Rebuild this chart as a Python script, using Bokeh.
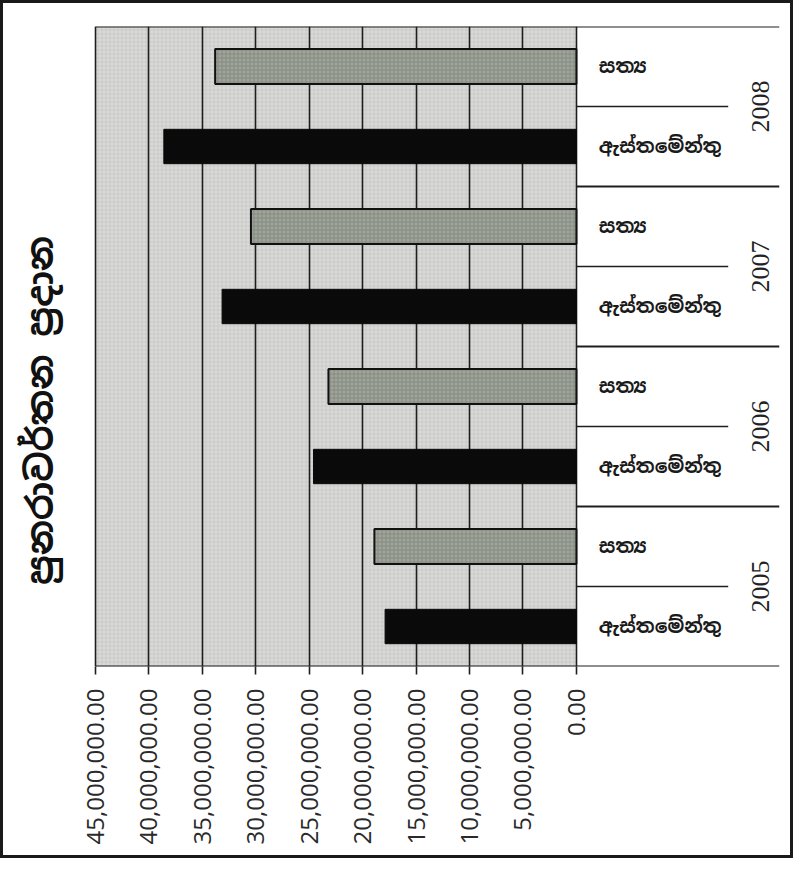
import numpy as np
from bokeh.plotting import figure
from bokeh.models import (Range1d, FixedTicker, NumeralTickFormatter, BoxAnnotation,
                          ColumnDataSource)
from bokeh.core.properties import value
from bokeh.embed import file_html
from bokeh.resources import INLINE

# ---- data ----
years = ["2005", "2006", "2007", "2008"]
type_labels = ["ඇස්තමේන්තු", "සත්‍ය"]   # estimate, actual
estimate = [17.9e6, 24.6e6, 33.15e6, 38.6e6]
actual = [18.9e6, 23.2e6, 30.45e6, 33.8e6]
x_ticks = [0, 5e6, 10e6, 15e6, 20e6, 25e6, 30e6, 35e6, 40e6, 45e6]
title_text = "පුනරාවර්තන ප්‍රදාන"

n = len(years)
y_est = np.arange(n) * 2
y_act = np.arange(n) * 2 + 1
x_max = x_ticks[-1]
x_left = 53.6e6     # left canvas edge (room for the rotated title)
x_right = -19.0e6   # right edge of label area (data units)
y_top = 2 * n - 0.5

p = figure(width=793, height=858, output_backend="svg", toolbar_location=None,
           x_range=Range1d(x_left, x_right), y_range=Range1d(-0.5, y_top),
           y_axis_location=None, min_border_left=0, min_border_right=17,
           min_border_top=23, min_border_bottom=195)
p.outline_line_color = None
p.background_fill_color = "white"
p.border_fill_color = "white"
p.styles = {"border": "3px solid #1a1a1a", "box-sizing": "border-box"}

# gray plotting area (with a light mesh texture like the printed original)
bg = BoxAnnotation(left=0, right=x_max, fill_color="#dadbd8", fill_alpha=1,
                   line_color=None, level="image",
                   hatch_pattern="+", hatch_color="#c6c7c4", hatch_scale=4,
                   hatch_weight=1, hatch_alpha=0.8)
p.add_layout(bg)

# grid
p.xgrid.ticker = FixedTicker(ticks=x_ticks)
p.xgrid.grid_line_color = "#1e1e1e"
p.xgrid.grid_line_width = 1.6
p.ygrid.visible = False

# x axis (line drawn as a segment so it starts at 45,000,000)
ax = p.xaxis[0]
ax.ticker = FixedTicker(ticks=x_ticks)
ax.formatter = NumeralTickFormatter(format="0,0.00")
ax.major_label_orientation = np.pi / 2
ax.major_label_text_font = "Open Sans"
ax.major_label_text_font_size = "24px"
ax.major_label_text_color = "#2a2a2a"
ax.major_label_standoff = 14
ax.axis_line_color = None
ax.major_tick_line_color = "#1e1e1e"
ax.major_tick_line_width = 1.6
ax.major_tick_out = 8
ax.major_tick_in = 0
ax.minor_tick_line_color = None

# bars
p.hbar(y=y_act, left=0, right=actual, height=0.44, fill_color="#a0a59c",
       line_color="#111111", line_width=2,
       hatch_pattern="+", hatch_color="#7e847a", hatch_scale=4, hatch_weight=1,
       hatch_alpha=0.8)
p.hbar(y=y_est, left=0, right=estimate, height=0.43, fill_color="#0a0a0a",
       line_color="#0a0a0a", line_width=1)

# separators in label area, top and bottom frame lines
short_y = y_est + 0.5
long_y = y_act[:-1] + 0.5
p.segment(x0=0, x1=-14.2e6, y0=short_y, y1=short_y, line_color="#1e1e1e", line_width=1.6)
p.segment(x0=0, x1=x_right, y0=long_y, y1=long_y, line_color="#1e1e1e", line_width=1.8)
p.segment(x0=[x_max, x_max], x1=[x_right, x_right], y0=[y_top, -0.5], y1=[y_top, -0.5],
          line_color="#1e1e1e", line_width=2.2)

# category labels
lab_src = ColumnDataSource(dict(
    y=np.concatenate([y_est, y_act]),
    t=[type_labels[0]] * n + [type_labels[1]] * n))
p.text(x=-2.1e6, y="y", text="t", source=lab_src, text_font=value("Noto Sans Sinhala"),
       text_font_size="19px", text_font_style="bold", text_color="#1a1a1a",
       text_align="left", text_baseline="middle")

# year labels
p.text(x=-17.2e6, y=y_est + 0.5, text=years, angle=np.pi / 2,
       text_font=value("Liberation Serif"), text_font_size="26px",
       text_color="#222222", text_align="center", text_baseline="middle")

# title, rotated, to the left of the chart area
p.text(x=[50.1e6], y=[2.7], text=[title_text], angle=np.pi / 2,
       text_font=value("Noto Sans Sinhala"), text_font_size="36px",
       text_font_style="bold", text_color="#111111",
       text_align="center", text_baseline="middle")

open("out.html", "w").write(file_html(p, INLINE))
